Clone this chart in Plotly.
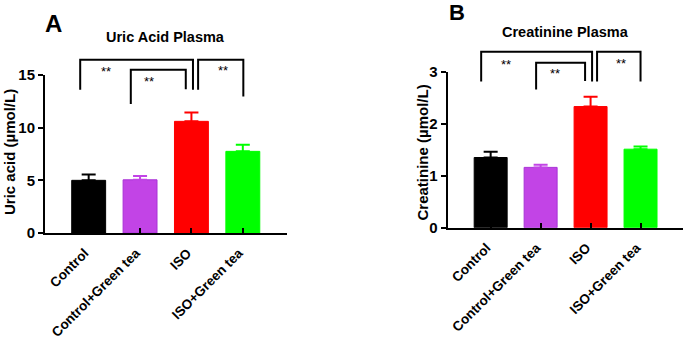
import plotly.graph_objects as go

categories = ["Control", "Control+Green tea", "ISO", "ISO+Green tea"]
colors = ["#000000", "#C244E6", "#FF0000", "#00FF00"]
line_colors = ["#000000", "#A833D6", "#FF0000", "#00FF00"]

uric_mean = [5.0, 5.05, 10.6, 7.75]
uric_err = [0.55, 0.35, 0.85, 0.62]

creat_mean = [1.35, 1.16, 2.33, 1.51]
creat_err = [0.11, 0.05, 0.19, 0.05]

# brackets: (x_left, x_right, y_top, y_left_bottom, y_right_bottom) in data units
uric_brackets = [(-0.165, 2.03, 16.45, 13.6, 13.6), (0.82, 1.89, 15.5, 12.25, 13.65), (2.13, 3.01, 16.45, 13.6, 12.95)]
uric_stars = [(0.33, 15.3), (1.18, 14.4), (2.62, 15.4)]
creat_brackets = [(-0.19, 2.03, 3.385, 2.81, 2.81), (0.91, 1.89, 3.17, 2.66, 2.82), (2.13, 3.0, 3.385, 2.81, 2.81)]
creat_stars = [(0.3, 3.13), (1.29, 2.96), (2.61, 3.16)]

W, H = 685, 344
FONT = "Liberation Sans, Arial, sans-serif"

panels = [
    dict(xa="x", ya="y", xdom=(45 / W, 287 / W), ydom=(1 - 233 / H, 1 - 75 / H),
         yr=(0, 15), dt=5, mean=uric_mean, err=uric_err, br=uric_brackets, st=uric_stars,
         xrange=(-0.85, 3.86)),
    dict(xa="x2", ya="y2", xdom=(447.7 / W, 683 / W), ydom=(1 - 227.7 / H, 1 - 71.7 / H),
         yr=(0, 3), dt=1, mean=creat_mean, err=creat_err, br=creat_brackets, st=creat_stars,
         xrange=(-0.86, 3.85)),
]

fig = go.Figure()
shapes = []
annotations = []

for p in panels:
    for i, c in enumerate(categories):
        fig.add_trace(go.Bar(
            x=[i], y=[p["mean"][i]], xaxis=p["xa"], yaxis=p["ya"],
            width=0.66,
            marker=dict(color=colors[i], line=dict(color=line_colors[i], width=1)),
            error_y=dict(type="data", array=[p["err"][i]], arrayminus=[0], symmetric=False,
                         color=colors[i], thickness=2, width=7),
            showlegend=False, hoverinfo="skip",
        ))

    def to_paper(v, p=p):
        return p["ydom"][0] + (v - p["yr"][0]) / (p["yr"][1] - p["yr"][0]) * (p["ydom"][1] - p["ydom"][0])

    for (xl, xr, yt, ybl, ybr) in p["br"]:
        path = "M {xl},{a} L {xl},{t} L {xr},{t} L {xr},{b}".format(
            xl=xl, xr=xr, a=to_paper(ybl), t=to_paper(yt), b=to_paper(ybr))
        shapes.append(dict(type="path", xref=p["xa"], yref="paper", path=path,
                           line=dict(color="black", width=2)))
    for (sx, sy) in p["st"]:
        annotations.append(dict(x=sx, y=to_paper(sy), xref=p["xa"], yref="paper", text="**",
                                showarrow=False, font=dict(size=13, color="black", family=FONT),
                                xanchor="center", yanchor="middle"))

axis_common = dict(showgrid=False, zeroline=False, showline=True, linecolor="black", linewidth=2,
                   automargin=False)

layout = dict(
    width=W, height=H, margin=dict(l=0, r=0, t=0, b=0),
    paper_bgcolor="white", plot_bgcolor="white",
    font=dict(family=FONT, color="black"),
)
for k, p in enumerate(panels):
    sx = "" if k == 0 else "2"
    layout["xaxis" + sx] = dict(axis_common, domain=list(p["xdom"]), anchor="y" + sx,
                                range=list(p["xrange"]), tickmode="array",
                                tickvals=list(range(len(categories))), ticktext=categories,
                                tickangle=-45, ticks="inside", ticklen=5, tickwidth=2,
                                tickcolor="black", ticklabelstandoff=5, ticklabelshift=-4,
                                tickfont=dict(size=13.5, family=FONT, color="black", weight="bold"))
    layout["yaxis" + sx] = dict(axis_common, domain=list(p["ydom"]), anchor="x" + sx,
                                range=list(p["yr"]), tickmode="linear", tick0=0, dtick=p["dt"],
                                ticks="outside", ticklen=5, tickwidth=2, tickcolor="black",
                                tickfont=dict(size=15, family=FONT, color="black", weight="bold"))

annotations += [
    dict(x=53 / W, y=1 - 23 / H, text="<b>A</b>", font=dict(size=24)),
    dict(x=456.5 / W, y=1 - 12.5 / H, text="<b>B</b>", font=dict(size=22)),
    dict(x=165 / W, y=1 - 37 / H, text="<b>Uric Acid Plasma</b>", font=dict(size=14.5)),
    dict(x=565 / W, y=1 - 32 / H, text="<b>Creatinine Plasma</b>", font=dict(size=14.5)),
    dict(x=9 / W, y=1 - 152 / H, text="<b>Uric acid (µmol/L)</b>", textangle=-90, font=dict(size=15)),
    dict(x=421.5 / W, y=1 - 153 / H, text="<b>Creatinine (µmol/L)</b>", textangle=-90, font=dict(size=15)),
]
for a in annotations[-6:]:
    a.update(xref="paper", yref="paper", showarrow=False, xanchor="center", yanchor="middle")
    a["font"].update(family=FONT, color="black")

layout["shapes"] = shapes
layout["annotations"] = annotations
fig.update_layout(**layout)
fig.write_html("out.html")
